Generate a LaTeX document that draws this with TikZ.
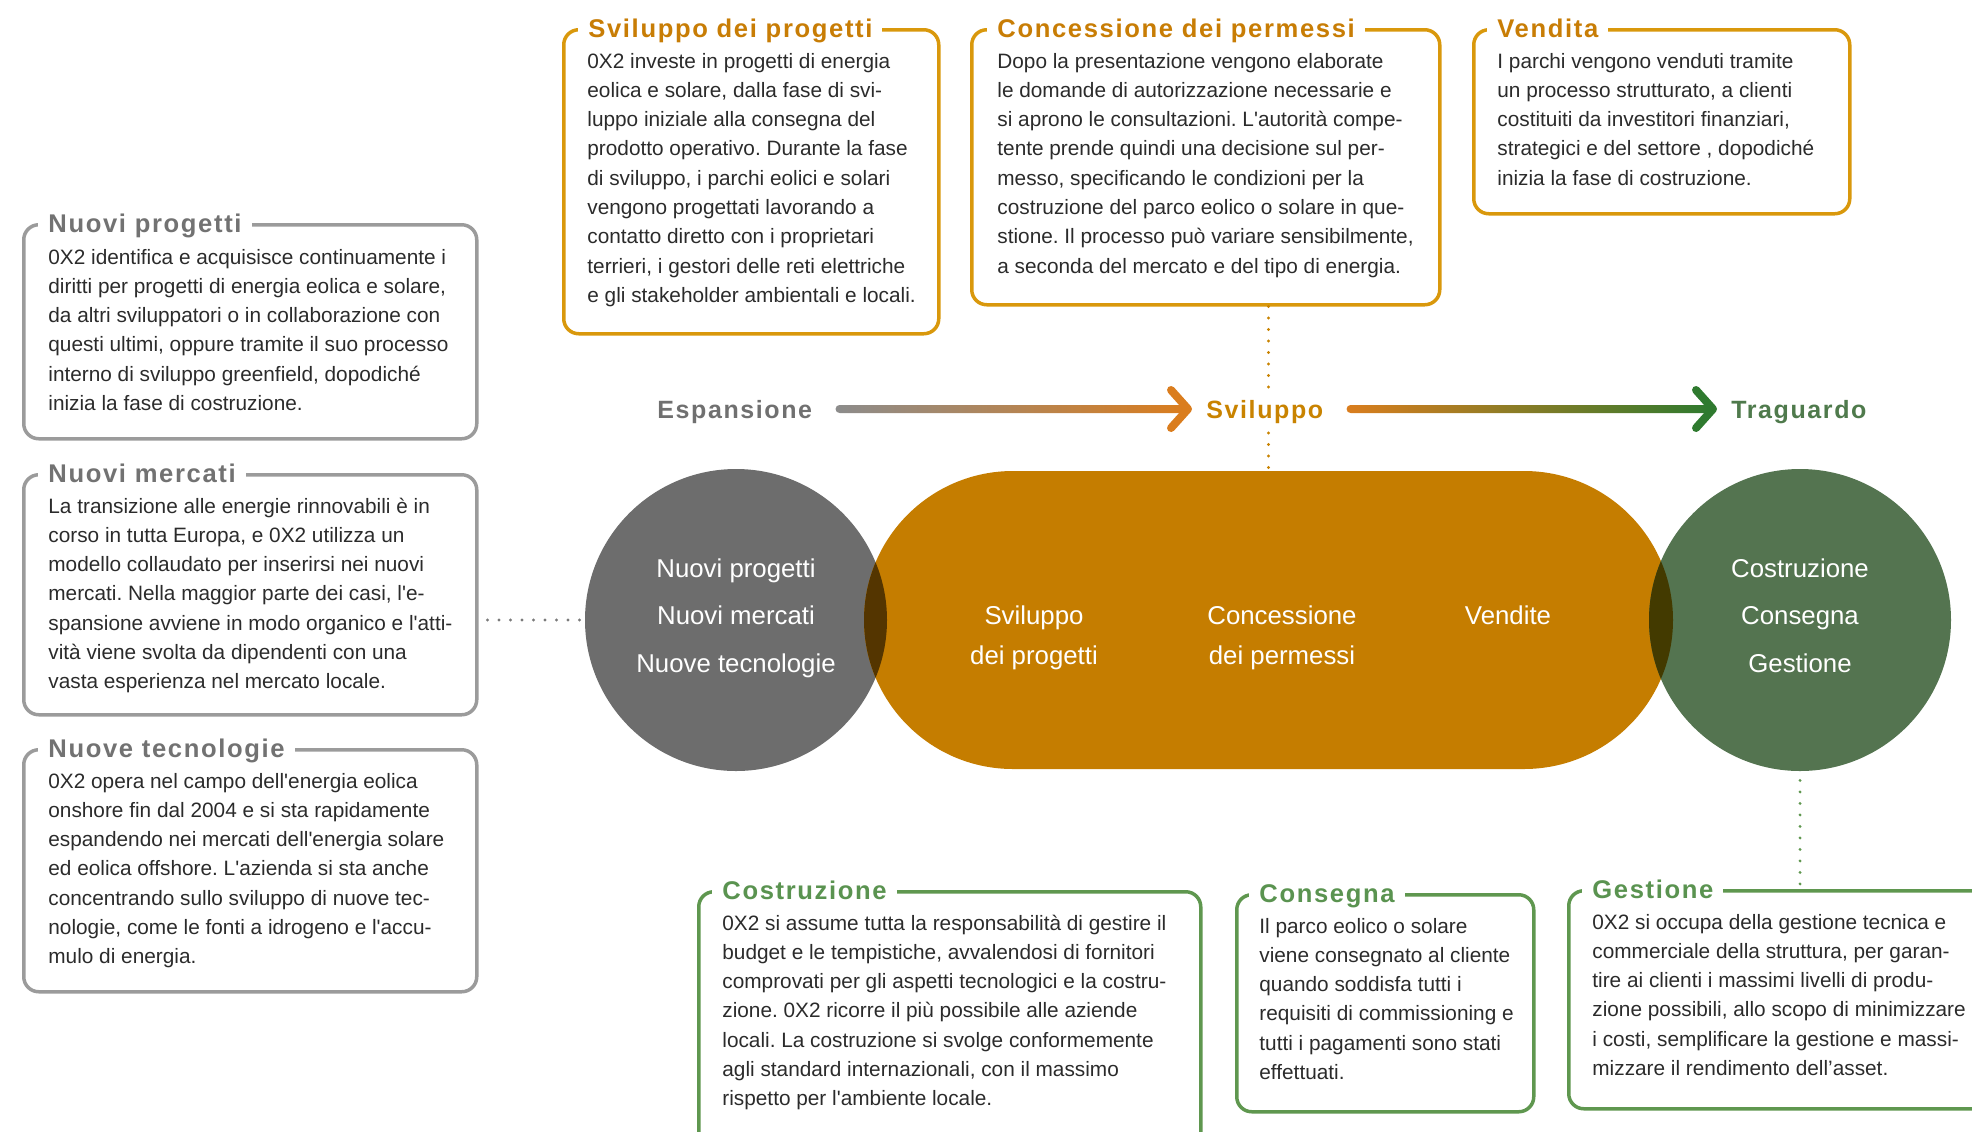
\documentclass[tikz,border=0pt]{standalone}
\usepackage{fontspec}
\setmainfont{Liberation Sans}[Ligatures=TeXOff]
\newfontfamily\trackfont{Liberation Sans}[LetterSpace=6.4,Ligatures=TeXOff]
\usetikzlibrary{calc,shapes.misc}
\frenchspacing
\definecolor{bodytxt}{HTML}{2B2B2B}
\definecolor{greyline}{HTML}{9B9B9B}
\definecolor{greytitle}{HTML}{727272}
\definecolor{greydot}{HTML}{7A7A7A}
\definecolor{orline}{HTML}{D9980C}
\definecolor{ortitle}{HTML}{C87D05}
\definecolor{grline}{HTML}{5F974F}
\definecolor{grtitle}{HTML}{5A9350}
\definecolor{greyc}{HTML}{6D6D6D}
\definecolor{orc}{HTML}{C57D00}
\definecolor{grc}{HTML}{547450}
\definecolor{ovl}{HTML}{543500}
\definecolor{ovr}{HTML}{433A00}
\definecolor{arrgrey}{HTML}{8C8C8C}
\definecolor{arror}{HTML}{DA7D1E}
\definecolor{arrgr}{HTML}{2F7A2F}
\definecolor{svcol}{HTML}{C98300}
\definecolor{trcol}{HTML}{4F7A4C}
\definecolor{espcol}{HTML}{707070}
\newcommand\paratext[1]{\vtop{\frenchspacing\baselineskip=14.65pt\halign{##\hfil\cr#1\crcr}}}
\newcommand\ctext[2]{\vtop{\baselineskip=#1\halign{\hfil##\hfil\cr#2\crcr}}}
\tikzset{
 frame/.style={draw, line width=1.75pt, rounded corners=7.5pt, anchor=north west, inner sep=0pt},
 ttl/.style={anchor=base west, fill=white, inner xsep=5pt, inner ysep=1.5pt, font=\trackfont\bfseries\fontsize{12.8pt}{14pt}\selectfont},
 body/.style={anchor=base west, inner sep=0pt, text=bodytxt, font=\fontsize{10.4pt}{14.65pt}\selectfont},
 dots/.style={line width=1.6pt, line cap=round, dash pattern=on 0pt off 5.75pt},
 inshape/.style={text=white, anchor=base, inner sep=0pt, font=\fontsize{12.9pt}{15pt}\selectfont},
 stage/.style={anchor=base west, inner sep=0pt, font=\trackfont\bfseries\fontsize{12.5pt}{15pt}\selectfont},
 chev/.style={line width=4pt, line cap=round, line join=round},
}
\begin{document}
\begin{tikzpicture}[x=0.5pt,y=-0.5pt]
\useasboundingbox (0,0) rectangle (1972,1131);
\clip (0,0) rectangle (1972,1131);

% ---------- left grey boxes ----------
\node[frame, draw=greyline, minimum width=226.5pt, minimum height=107pt] (np) at (22,223) {};
\node[ttl, text=greytitle] (npt) at ($(np.north west)+(16,9)$) {Nuovi progetti};
\node[body] (npb) at ($(np.north west)+(26,41)$) {\paratext{0X2 identifica e acquisisce continuamente i\cr
diritti per progetti di energia eolica e solare,\cr
da altri sviluppatori o in collaborazione con\cr
questi ultimi, oppure tramite il suo processo\cr
interno di sviluppo greenfield, dopodiché\cr
inizia la fase di costruzione.}};

\node[frame, draw=greyline, minimum width=226.5pt, minimum height=120pt] (nm) at (22,473) {};
\node[ttl, text=greytitle] (nmt) at ($(nm.north west)+(16,9)$) {Nuovi mercati};
\node[body] (nmb) at ($(nm.north west)+(26,40)$) {\paratext{La transizione alle energie rinnovabili è in\cr
corso in tutta Europa, e 0X2 utilizza un\cr
modello collaudato per inserirsi nei nuovi\cr
mercati. Nella maggior parte dei casi, l'e-\cr
spansione avviene in modo organico e l'atti-\cr
vità viene svolta da dipendenti con una\cr
vasta esperienza nel mercato locale.}};

\node[frame, draw=greyline, minimum width=226.5pt, minimum height=121pt] (nt) at (22,748) {};
\node[ttl, text=greytitle] (ntt) at ($(nt.north west)+(16,9)$) {Nuove tecnologie};
\node[body] (ntb) at ($(nt.north west)+(26,40)$) {\paratext{0X2 opera nel campo dell'energia eolica\cr
onshore fin dal 2004 e si sta rapidamente\cr
espandendo nei mercati dell'energia solare\cr
ed eolica offshore. L'azienda si sta anche\cr
concentrando sullo sviluppo di nuove tec-\cr
nologie, come le fonti a idrogeno e l'accu-\cr
mulo di energia.}};

% ---------- top orange boxes ----------
\node[frame, draw=orline, minimum width=187.5pt, minimum height=152pt] (sp) at (562,28) {};
\node[ttl, text=ortitle] (spt) at ($(sp.north west)+(16,9)$) {Sviluppo dei progetti};
\node[body] (spb) at ($(sp.north west)+(25,40)$) {\paratext{0X2 investe in progetti di energia\cr
eolica e solare, dalla fase di svi-\cr
luppo iniziale alla consegna del\cr
prodotto operativo. Durante la fase\cr
di sviluppo, i parchi eolici e solari\cr
vengono progettati lavorando a\cr
contatto diretto con i proprietari\cr
terrieri, i gestori delle reti elettriche\cr
e gli stakeholder ambientali e locali.}};

\node[frame, draw=orline, minimum width=234pt, minimum height=137.5pt] (ce) at (970,28) {};
\node[ttl, text=ortitle] (cet) at ($(ce.north west)+(17,9)$) {Concessione dei permessi};
\node[body] (ceb) at ($(ce.north west)+(27,40)$) {\paratext{Dopo la presentazione vengono elaborate\cr
le domande di autorizzazione necessarie e\cr
si aprono le consultazioni. L'autorità compe-\cr
tente prende quindi una decisione sul per-\cr
messo, specificando le condizioni per la\cr
costruzione del parco eolico o solare in que-\cr
stione. Il processo può variare sensibilmente,\cr
a seconda del mercato e del tipo di energia.}};

\node[frame, draw=orline, minimum width=188pt, minimum height=92pt] (ve) at (1472,28) {};
\node[ttl, text=ortitle] (vet) at ($(ve.north west)+(15,9)$) {Vendita};
\node[body] (veb) at ($(ve.north west)+(25,40)$) {\paratext{I parchi vengono venduti tramite\cr
un processo strutturato, a clienti\cr
costituiti da investitori finanziari,\cr
strategici e del settore , dopodiché\cr
inizia la fase di costruzione.}};

% ---------- bottom green boxes ----------
\node[frame, draw=grline, minimum width=251pt, minimum height=150pt] (co) at (697,890) {};
\node[ttl, text=grtitle] (cot) at ($(co.north west)+(15,9)$) {Costruzione};
\node[body] (cob) at ($(co.north west)+(25,40)$) {\paratext{0X2 si assume tutta la responsabilità di gestire il\cr
budget e le tempistiche, avvalendosi di fornitori\cr
comprovati per gli aspetti tecnologici e la costru-\cr
zione. 0X2 ricorre il più possibile alle aziende\cr
locali. La costruzione si svolge conformemente\cr
agli standard internazionali, con il massimo\cr
rispetto per l'ambiente locale.}};

\node[frame, draw=grline, minimum width=148.5pt, minimum height=108.5pt] (cs) at (1235,893) {};
\node[ttl, text=grtitle] (cst) at ($(cs.north west)+(14,9)$) {Consegna};
\node[body] (csb) at ($(cs.north west)+(24,40)$) {\paratext{Il parco eolico o solare\cr
viene consegnato al cliente\cr
quando soddisfa tutti i\cr
requisiti di commissioning e\cr
tutti i pagamenti sono stati\cr
effettuati.}};

\node[frame, draw=grline, minimum width=225pt, minimum height=109pt] (ge) at (1567,889) {};
\node[ttl, text=grtitle] (get) at ($(ge.north west)+(15,9)$) {Gestione};
\node[body] (geb) at ($(ge.north west)+(25,40)$) {\paratext{0X2 si occupa della gestione tecnica e\cr
commerciale della struttura, per garan-\cr
tire ai clienti i massimi livelli di produ-\cr
zione possibili, allo scopo di minimizzare\cr
i costi, semplificare la gestione e massi-\cr
mizzare il rendimento dell’asset.}};

% ---------- central shapes ----------
\node[circle, fill=greyc, minimum size=151pt, inner sep=0pt] (gc) at (736,620) {};
\node[rounded rectangle, fill=orc, minimum width=404.5pt, minimum height=149pt, inner sep=0pt] (oc) at (1268.5,620) {};
\node[circle, fill=grc, minimum size=151pt, inner sep=0pt] (grn) at (1800,620) {};
\begin{scope}
\clip[rounded corners=74.5pt] (864,471) rectangle (1673,769);
\fill[ovl] (gc.center) circle (75.5pt);
\fill[ovr] (grn.center) circle (75.5pt);
\end{scope}

\node[inshape] (gct) at (736,577) {\ctext{23.75pt}{Nuovi progetti\cr Nuovi mercati\cr Nuove tecnologie}};
\node[inshape] (oct1) at (1034,624) {\ctext{20pt}{Sviluppo\cr dei progetti}};
\node[inshape] (oct2) at (1282,624) {\ctext{20pt}{Concessione\cr dei permessi}};
\node[inshape] (oct3) at (1508,624) {Vendite};
\node[inshape] (grt) at (1800,577) {\ctext{23.75pt}{Costruzione\cr Consegna\cr Gestione}};

% ---------- dotted connectors ----------
\draw[dots, draw=greydot] ($(nm.east |- gc.west)+(9,0)$) -- ($(gc.west)+(-4,0)$);
\draw[dots, draw=svcol] (oc.north |- ce.south) -- ($(oc.north)+(0,3)$);
\draw[dots, draw=grline] ($(grn.south)+(0,9)$) -- ($(grn.south |- ge.north)+(0,-2)$);

% ---------- stage labels and arrows ----------
\node[stage, text=espcol] (esp) at (657,418) {Espansione};
\node[stage, text=svcol, fill=white, inner ysep=4pt] (svil) at (1206,418) {Sviluppo};
\node[stage, text=trcol] (trag) at (1731,418) {Traguardo};

\coordinate (a1s) at ($(esp.base east)+(23,-9)$);
\coordinate (a1e) at ($(svil.base west)+(-18,-9)$);
\shade[left color=arrgrey, right color=arror, rounded corners=2pt] ($(a1s)+(0,-4)$) rectangle ($(a1e)+(-3,4)$);
\draw[chev, arror] ($(a1e)+(-17,-19)$) -- (a1e) -- ($(a1e)+(-17,19)$);

\coordinate (a2s) at ($(svil.base east)+(23,-9)$);
\coordinate (a2e) at ($(trag.base west)+(-18,-9)$);
\shade[left color=arror, right color=arrgr, rounded corners=2pt] ($(a2s)+(0,-4)$) rectangle ($(a2e)+(-3,4)$);
\draw[chev, arrgr] ($(a2e)+(-17,-19)$) -- (a2e) -- ($(a2e)+(-17,19)$);
\end{tikzpicture}
\end{document}
